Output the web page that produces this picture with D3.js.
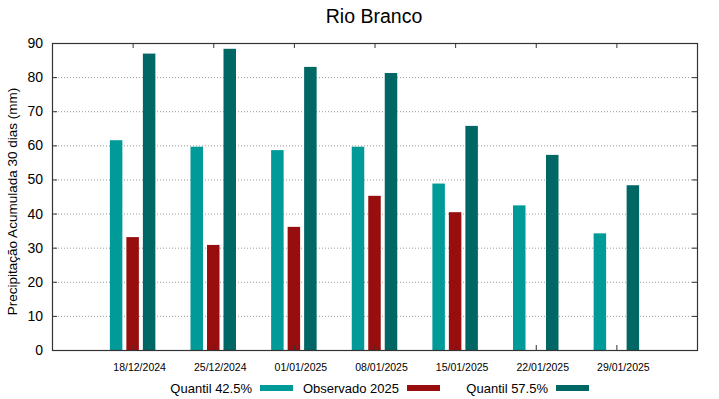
<!DOCTYPE html>
<html>
<head>
<meta charset="utf-8">
<script src="https://cdn.jsdelivr.net/npm/d3@7"></script>
<style>
  body { margin: 0; background: #fff; }
  text { font-family: "Liberation Sans", Arial, sans-serif; }
</style>
</head>
<body>
<div id="chart"></div>
<script>
var dates = ["18/12/2024", "25/12/2024", "01/01/2025", "08/01/2025", "15/01/2025", "22/01/2025", "29/01/2025"];
var quantil425 = [61.5, 59.6, 58.6, 59.6, 48.8, 42.4, 34.2];
var observado = [33.1, 30.8, 36.1, 45.2, 40.4, null, null];
var quantil575 = [86.9, 88.3, 83.0, 81.2, 65.7, 57.2, 48.3];
var yTicks = [0, 10, 20, 30, 40, 50, 60, 70, 80, 90];

var series = [
    {name: "Quantil 42.5%", values: quantil425, color: "#009b98", offset: -16.5},
    {name: "Observado 2025", values: observado, color: "#980e0e", offset: 0},
    {name: "Quantil 57.5%", values: quantil575, color: "#006764", offset: 16.5}
];

var width = 719, height = 399;
var mLeft = 52, mRight = 697, mTop = 43, mBottom = 350;

var svg = d3.select("#chart").append("svg")
    .attr("width", width)
    .attr("height", height);

var x = d3.scaleLinear().domain([0, dates.length + 1]).range([mLeft, mRight]);
var y = d3.scaleLinear().domain([0, 90]).range([mBottom, mTop]);

// grid
svg.selectAll(".grid")
    .data(yTicks.filter(function(d){ return d > 0 && d < 90; }))
    .enter().append("line")
    .attr("class", "grid")
    .attr("x1", mLeft).attr("x2", mRight)
    .attr("y1", function(d){ return y(d) + 0.5; })
    .attr("y2", function(d){ return y(d) + 0.5; })
    .attr("stroke", "#999")
    .attr("stroke-width", 1)
    .attr("stroke-dasharray", "1,2");

// bars
var barW = 12.5;
series.forEach(function(s, k){
    svg.selectAll(".bar" + k)
        .data(s.values.map(function(v, i){ return {v: v, i: i}; }).filter(function(d){ return d.v != null; }))
        .enter().append("rect")
        .attr("class", "bar" + k)
        .attr("x", function(d){ return x(d.i + 1) + s.offset - barW / 2; })
        .attr("y", function(d){ return y(d.v); })
        .attr("width", barW)
        .attr("height", function(d){ return y(0) - y(d.v); })
        .attr("fill", s.color);
});

// axes (ticks inward, mirrored)
var yl = d3.axisLeft(y).tickValues(yTicks).tickSize(-5).tickPadding(9);
var yr = d3.axisRight(y).tickValues(yTicks).tickSize(-5).tickFormat("");
var xb = d3.axisBottom(x).tickValues(d3.range(1, dates.length + 1)).tickSize(-5)
    .tickFormat(function(d){ return dates[d - 1]; }).tickPadding(14);
var xt = d3.axisTop(x).tickValues(d3.range(1, dates.length + 1)).tickSize(-5).tickFormat("");

var gl = svg.append("g").attr("transform", "translate(" + mLeft + ",0)").call(yl);
gl.selectAll("text").attr("font-size", 14).attr("fill", "#000");
svg.append("g").attr("transform", "translate(" + mRight + ",0)").call(yr);
var gb = svg.append("g").attr("transform", "translate(0," + mBottom + ")").call(xb);
gb.selectAll("text").attr("font-size", 10.5).attr("fill", "#000").attr("dx", 6.5);
svg.append("g").attr("transform", "translate(0," + mTop + ")").call(xt);

svg.selectAll(".domain").attr("stroke", "none");
svg.selectAll(".tick line").attr("stroke", "#333");

svg.append("rect")
    .attr("x", mLeft + 0.5).attr("y", mTop + 0.5)
    .attr("width", mRight - mLeft).attr("height", mBottom - mTop)
    .attr("fill", "none")
    .attr("stroke", "#333")
    .attr("stroke-width", 1.2);

// title
svg.append("text")
    .attr("x", 374).attr("y", 23)
    .attr("text-anchor", "middle")
    .attr("font-size", 19.5)
    .text("Rio Branco");

// y label
svg.append("text")
    .attr("transform", "translate(17," + ((mTop + mBottom) / 2 + 5) + ") rotate(-90)")
    .attr("text-anchor", "middle")
    .attr("font-size", 13.5)
    .text("Precipitação Acumulada 30 dias (mm)");

// legend
var legendX = [252, 399, 548];
var lg = svg.selectAll(".legend")
    .data(series)
    .enter().append("g")
    .attr("class", "legend")
    .attr("transform", function(d, i){ return "translate(" + legendX[i] + ",388)"; });
lg.append("text")
    .attr("text-anchor", "end")
    .attr("font-size", 13)
    .attr("dy", "0.35em")
    .text(function(d){ return d.name; });
lg.append("rect")
    .attr("x", 8).attr("y", -3)
    .attr("width", 33).attr("height", 6)
    .attr("fill", function(d){ return d.color; });
</script>
</body>
</html>
